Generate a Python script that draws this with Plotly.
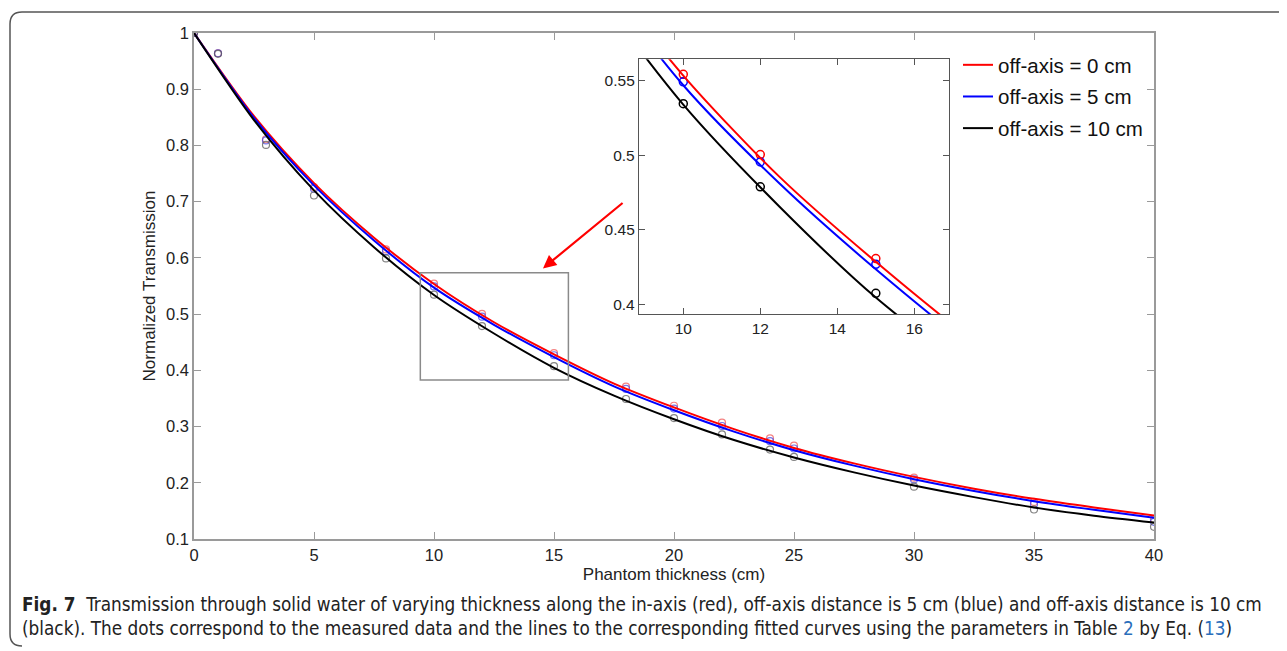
import plotly.graph_objects as go

# ---------------- data ----------------
thickness = [0, 1, 3, 5, 8, 10, 12, 15, 18, 20, 22, 24, 25, 30, 35, 40]
meas_0cm = [1.0, 0.964, 0.811, 0.726, 0.615, 0.5543, 0.5005, 0.4307, 0.371, 0.337, 0.307, 0.279, 0.266, 0.209, 0.166, 0.135]
meas_5cm = [1.0, 0.964, 0.809, 0.723, 0.612, 0.5493, 0.4955, 0.4268, 0.367, 0.332, 0.301, 0.274, 0.261, 0.206, 0.162, 0.1305]
meas_10cm = [1.0, 0.963, 0.801, 0.711, 0.599, 0.5346, 0.4788, 0.4074, 0.349, 0.315, 0.286, 0.259, 0.246, 0.193, 0.1525, 0.1216]

# fitted curves, every 2.5 cm
fit_x = [0, 2.5, 5, 7.5, 10, 12.5, 15, 17.5, 20, 22.5, 25, 27.5, 30, 32.5, 35, 37.5, 40]
fit_0cm = [1.0, 0.852, 0.733, 0.636, 0.5535, 0.4855, 0.4285, 0.3765, 0.334, 0.2955, 0.262, 0.2345, 0.2105, 0.1895, 0.1714, 0.156, 0.142]
fit_5cm = [1.0, 0.849, 0.729, 0.631, 0.547, 0.481, 0.4235, 0.3715, 0.329, 0.291, 0.258, 0.2305, 0.2064, 0.1855, 0.1673, 0.152, 0.138]
fit_10cm = [1.0, 0.845, 0.72, 0.619, 0.534, 0.4655, 0.4045, 0.355, 0.313, 0.276, 0.245, 0.2185, 0.195, 0.1745, 0.156, 0.1415, 0.1293]

series_names = ["off-axis = 0 cm", "off-axis = 5 cm", "off-axis = 10 cm"]

x_ticks = [0, 5, 10, 15, 20, 25, 30, 35, 40]
x_ticktext = ["0", "5", "10", "15", "20", "25", "30", "35", "40"]
y_ticks = [0.1, 0.2, 0.3, 0.4, 0.5, 0.6, 0.7, 0.8, 0.9, 1.0]
y_ticktext = ["0.1", "0.2", "0.3", "0.4", "0.5", "0.6", "0.7", "0.8", "0.9", "1"]

inset_x_ticks = [10, 12, 14, 16]
inset_x_ticktext = ["10", "12", "14", "16"]
inset_y_ticks = [0.4, 0.45, 0.5, 0.55]
inset_y_ticktext = ["0.4", "0.45", "0.5", "0.55"]

caption_line1 = ("<b>Fig. 7</b>  Transmission through solid water of varying thickness along the in-axis (red), "
                 "off-axis distance is 5 cm (blue) and off-axis distance is 10 cm")
caption_line2 = ("(black). The dots correspond to the measured data and the lines to the corresponding fitted curves "
                 "using the parameters in Table <span style='color:#2a6ebb'>2</span> by Eq. (<span style='color:#2a6ebb'>13</span>)")

# ---------------- styling / layout ----------------
OFF = 8  # page body margin of the html page
W, H = 1287 - OFF, 651 - OFF
L, R, T, B = 194 - OFF, 1154 - OFF, 33 - OFF, 539 - OFF  # plot area in figure pixels

def px(xp):
    # xp: pixel position in the reference screenshot
    return (xp - OFF - L) / (R - L)

def py(yp):
    return (B - (yp - OFF)) / (B - T)

line_colors = ["#ff0000", "#0000ff", "#000000"]
main_marker_colors = ["rgba(240,90,90,0.75)", "rgba(70,70,230,0.75)", "rgba(90,90,90,0.75)"]
FONT = "Liberation Sans, Arial, Helvetica, sans-serif"

fig = go.Figure()

meas = [meas_0cm, meas_5cm, meas_10cm]
fits = [fit_0cm, fit_5cm, fit_10cm]

# measured points (main)
for i in range(3):
    fig.add_trace(go.Scatter(x=thickness, y=meas[i], mode="markers",
                             marker=dict(symbol="circle-open", size=7, color=main_marker_colors[i],
                                         line=dict(width=1.2, color=main_marker_colors[i])),
                             showlegend=False, hoverinfo="skip"))
# fitted curves (main)
for i in range(3):
    fig.add_trace(go.Scatter(x=fit_x, y=fits[i], mode="lines", name=series_names[i],
                             line=dict(color=line_colors[i], width=2, shape="spline", smoothing=0.8),
                             legendgroup=f"g{i}"))
# inset
for i in range(3):
    fig.add_trace(go.Scatter(x=thickness, y=meas[i], mode="markers", xaxis="x2", yaxis="y2",
                             marker=dict(symbol="circle-open", size=8, color=line_colors[i],
                                         line=dict(width=1.5, color=line_colors[i])),
                             showlegend=False, hoverinfo="skip", cliponaxis=True))
for i in range(3):
    fig.add_trace(go.Scatter(x=fit_x, y=fits[i], mode="lines", xaxis="x2", yaxis="y2",
                             line=dict(color=line_colors[i], width=2, shape="spline", smoothing=0.8),
                             showlegend=False, hoverinfo="skip"))

axis_gray = "#9a9a9a"
fig.update_layout(
    width=W, height=H,
    margin=dict(l=L, r=W - R, t=T, b=H - B),
    paper_bgcolor="white", plot_bgcolor="white",
    font=dict(family=FONT, size=16, color="#222"),
    xaxis=dict(range=[0, 40], tickvals=x_ticks, ticktext=x_ticktext, ticks="inside", ticklen=7,
               tickcolor=axis_gray, linecolor=axis_gray, linewidth=1.5, mirror="ticks",
               showgrid=False, zeroline=False, tickfont=dict(size=16.5),
               title=dict(text="Phantom thickness (cm)", font=dict(size=17), standoff=6)),
    yaxis=dict(range=[0.1, 1.0], tickvals=y_ticks, ticktext=y_ticktext, ticks="inside", ticklen=7,
               tickcolor=axis_gray, linecolor=axis_gray, linewidth=1.5, mirror="ticks",
               showgrid=False, zeroline=False, tickfont=dict(size=16.5),
               title=dict(text="Normalized Transmission", font=dict(size=17), standoff=6)),
    xaxis2=dict(domain=[px(639), px(949)], anchor="y2", range=[8.85, 16.9],
                tickvals=inset_x_ticks, ticktext=inset_x_ticktext, ticks="inside", ticklen=6,
                tickcolor="#555", linecolor="#555", linewidth=1.3, mirror="ticks",
                showgrid=False, zeroline=False, tickfont=dict(size=15.5)),
    yaxis2=dict(domain=[py(314), py(59.3)], anchor="x2", range=[0.3935, 0.5644],
                tickvals=inset_y_ticks, ticktext=inset_y_ticktext, ticks="inside", ticklen=6,
                tickcolor="#555", linecolor="#555", linewidth=1.3, mirror="ticks",
                showgrid=False, zeroline=False, tickfont=dict(size=15.5)),
    legend=dict(x=px(958), y=py(45), xanchor="left", yanchor="top", bgcolor="rgba(255,255,255,0)",
                font=dict(size=20.5, color="#111"), itemwidth=30, tracegroupgap=2, traceorder="grouped"),
    showlegend=True,
)

# zoom rectangle on main axes
fig.add_shape(type="rect", xref="x", yref="y", x0=9.43, x1=15.6, y0=0.3826, y1=0.5735,
              line=dict(color="#8a8a8a", width=1.5))

# arrow
fig.add_annotation(x=14.54, y=0.5813, ax=17.92, ay=0.6998, xref="x", yref="y", axref="x", ayref="y",
                   showarrow=True, arrowhead=2, arrowsize=1.2, arrowwidth=2.2, arrowcolor="#ff0000", text="")

# frame with rounded corners
fx0, fx1 = px(10), px(1330)
fy0, fy1 = py(646), py(12)
rx, ry = 12 / (R - L), 12 / (B - T)
path = (f"M {fx0+rx},{fy1} L {fx1},{fy1} M {fx0+rx},{fy1} Q {fx0},{fy1} {fx0},{fy1-ry} "
        f"L {fx0},{fy0+ry} Q {fx0},{fy0} {fx0+rx},{fy0}")
fig.add_shape(type="path", xref="paper", yref="paper", path=path,
              line=dict(color="#555", width=1.5))

# caption
CAP_FONT = "Liberation Sans Narrow, DejaVu Sans Condensed, Liberation Sans, sans-serif"
fig.add_annotation(xref="paper", yref="paper", x=px(20), y=py(604), xanchor="left", yanchor="middle",
                   text=caption_line1, showarrow=False, align="left",
                   font=dict(family=CAP_FONT, size=18.8, color="#222"))
fig.add_annotation(xref="paper", yref="paper", x=px(20), y=py(628), xanchor="left", yanchor="middle",
                   text=caption_line2, showarrow=False, align="left",
                   font=dict(family=CAP_FONT, size=18.8, color="#222"))

fig.write_html("out.html")
